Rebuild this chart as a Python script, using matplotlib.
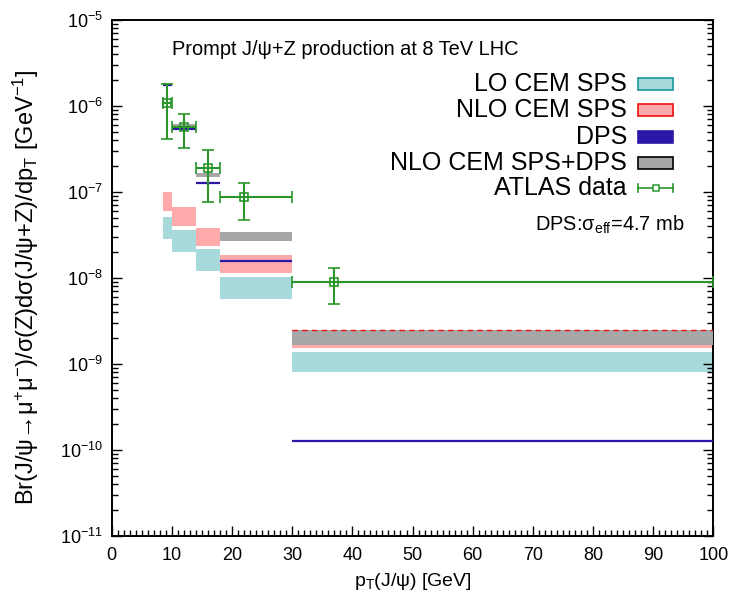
"""Prompt J/psi+Z production at 8 TeV LHC: theory bands (LO/NLO CEM SPS, DPS)
against ATLAS data, log y scale."""

import matplotlib

matplotlib.use("Agg")
import matplotlib.pyplot as plt
from matplotlib.patches import Rectangle
from matplotlib.ticker import MultipleLocator, LogLocator, NullFormatter
import numpy as np

plt.rcParams["font.family"] = ["Liberation Sans", "DejaVu Sans"]
plt.rcParams["mathtext.fontset"] = "custom"
plt.rcParams["mathtext.rm"] = "Liberation Sans"
plt.rcParams["mathtext.it"] = "Liberation Sans"
plt.rcParams["mathtext.sf"] = "Liberation Sans"

# pT bins [GeV]
bin_lo = [8.5, 10, 14, 18, 30]
bin_hi = [10, 14, 18, 30, 100]

# theory bands per bin
lo_low = [2.84e-8, 2.0e-8, 1.2e-8, 5.7e-9, 8.1e-10]
lo_high = [5.12e-8, 3.61e-8, 2.17e-8, 1.03e-8, 1.38e-9]
nlo_low = [6.0e-8, 4.03e-8, 2.35e-8, 1.14e-8, 1.55e-9]
nlo_high = [1.0e-7, 6.7e-8, 3.81e-8, 1.85e-8, 2.51e-9]
dps = [1.76e-6, 5.4e-7, 1.27e-7, 1.58e-8, 1.27e-10]
sum_low = [1.74e-6, 5.85e-7, 1.49e-7, 2.72e-8, 1.66e-9]
sum_high = [1.84e-6, 6.12e-7, 1.66e-7, 3.43e-8, 2.48e-9]

# ATLAS data
data_pt = [9.25, 12, 16, 22, 37]
data_val = [1.09e-6, 5.65e-7, 1.92e-7, 8.75e-8, 8.9e-9]
data_top = [1.79e-6, 8.07e-7, 3.05e-7, 1.26e-7, 1.3e-8]
data_bot = [4.13e-7, 3.25e-7, 7.59e-8, 4.72e-8, 5.0e-9]

y_ticks = [1e-11, 1e-10, 1e-9, 1e-8, 1e-7, 1e-6, 1e-5]

C_LO, C_LO_EDGE = "#a8dadc", "#1a9a9a"
C_NLO, C_NLO_EDGE = "#ffaaaa", "#ee1111"
C_DPS = "#2a18a8"
C_SUM = "#a6a6a6"
C_DATA = "#2a962a"

fig = plt.figure(figsize=(7.35, 5.97), dpi=100)
ax = fig.add_axes([0.152, 0.1022, 0.8185, 0.8643])

for i in range(len(bin_lo)):
    x = [bin_lo[i], bin_hi[i]]
    ax.fill_between(x, lo_low[i], lo_high[i], color=C_LO, lw=0, zorder=1)
    ax.fill_between(x, nlo_low[i], nlo_high[i], color=C_NLO, lw=0, zorder=2)
    ax.fill_between(x, sum_low[i], sum_high[i], color=C_SUM, lw=0, zorder=3)
    ax.plot(x, [dps[i], dps[i]], color=C_DPS, lw=1.6, zorder=4, solid_capstyle="butt")

# NLO upper edge hidden under the SPS+DPS band in the last bin
ax.plot([bin_lo[-1], bin_hi[-1]], [nlo_high[-1]] * 2, color=C_NLO_EDGE, lw=1.0,
        ls=(0, (4, 3)), zorder=5)

val = np.array(data_val)
yerr = [val - np.array(data_bot), np.array(data_top) - val]
xerr = [np.array(data_pt) - np.array(bin_lo), np.array(bin_hi) - np.array(data_pt)]
ax.errorbar(data_pt, data_val, xerr=xerr, yerr=yerr, fmt="s", mfc="none",
            mec=C_DATA, color=C_DATA, ms=6, mew=1.2, elinewidth=1.5,
            capsize=4, capthick=1.5, zorder=6)

ax.set_xlim(0, 100)
ax.set_yscale("log")
ax.set_ylim(y_ticks[0], y_ticks[-1])
ax.set_xticks(np.arange(0, 101, 10))
ax.xaxis.set_minor_locator(MultipleLocator(1))
ax.set_yticks(y_ticks)
ax.yaxis.set_minor_locator(LogLocator(base=10, subs=np.arange(2, 10), numticks=20))
ax.yaxis.set_minor_formatter(NullFormatter())
ax.tick_params(which="both", direction="in", top=False, right=True, labelsize=13)
ax.tick_params(which="major", length=7, width=1)
ax.tick_params(which="minor", length=4, width=1)
ax.tick_params(axis="x", pad=8)
ax.tick_params(axis="y", pad=6)
for s in ax.spines.values():
    s.set_linewidth(1.4)

ax.set_xlabel(r"p$_\mathrm{T}$(J/ψ) [GeV]", fontsize=14, labelpad=5)
ax.set_ylabel(r"Br(J/ψ→μ$^{+}$μ$^{-}$)/σ(Z)dσ(J/ψ+Z)/dp$_\mathrm{T}$ [GeV$^{-1}$]",
              fontsize=17, labelpad=2)
ax.yaxis.set_label_coords(-0.118, 0.483)

ax.text(0.1, 0.942, "Prompt J/ψ+Z production at 8 TeV LHC", transform=ax.transAxes,
        fontsize=14.4, va="center", ha="left")

# legend drawn by hand: right-aligned labels, swatch on the right
entries = [
    ("LO CEM SPS", C_LO, C_LO_EDGE),
    ("NLO CEM SPS", C_NLO, C_NLO_EDGE),
    ("DPS", C_DPS, C_DPS),
    ("NLO CEM SPS+DPS", C_SUM, "black"),
]
fig_w, fig_h = 735, 597
x0, y0, w, h = ax.get_position().bounds


def to_ax(px, py):
    return ((px / fig_w - x0) / w, ((1 - py / fig_h) - y0) / h)


row_y = [84.3, 110, 137.3, 162.7, 188.3]
for (label, fc, ec), py in zip(entries, row_y):
    tx, ty = to_ax(627, py)
    ax.text(tx, ty, label, transform=ax.transAxes, fontsize=18, ha="right", va="center")
    rx, ry = to_ax(638, py + 6)
    rx2, ry2 = to_ax(673, py - 6)
    ax.add_patch(Rectangle((rx, ry), rx2 - rx, ry2 - ry, transform=ax.transAxes,
                           facecolor=fc, edgecolor=ec, lw=1.2, zorder=7, clip_on=False))

tx, ty = to_ax(627, row_y[4])
ax.text(tx, ty, "ATLAS data", transform=ax.transAxes, fontsize=18, ha="right", va="center")
lx1, ly = to_ax(638, row_y[4])
lx2, _ = to_ax(673, row_y[4])
ax.plot([lx1, lx2], [ly, ly], transform=ax.transAxes, color=C_DATA, lw=1.2, clip_on=False)
_, cy1 = to_ax(0, row_y[4] - 4)
_, cy2 = to_ax(0, row_y[4] + 4)
for cx in (lx1, lx2):
    ax.plot([cx, cx], [cy1, cy2], transform=ax.transAxes, color=C_DATA, lw=1.2, clip_on=False)
ax.plot([(lx1 + lx2) / 2], [ly], transform=ax.transAxes, marker="s", mfc="white",
        mec=C_DATA, ms=5, mew=1.1, clip_on=False)

tx, ty = to_ax(684, 225)
ax.text(tx, ty, r"DPS:σ$_\mathrm{eff}$=4.7 mb", transform=ax.transAxes,
        fontsize=14.4, ha="right", va="center")

fig.savefig("out.png", dpi=100)
